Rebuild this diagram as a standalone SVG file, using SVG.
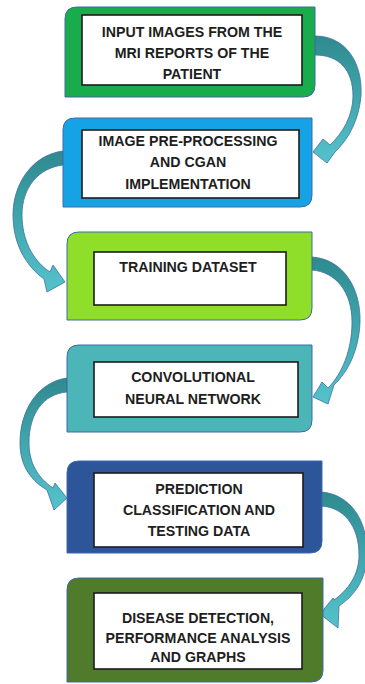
<svg xmlns="http://www.w3.org/2000/svg" width="365" height="684" viewBox="0 0 365 684">
<defs>
<linearGradient id="ag" x1="0" y1="0" x2="0" y2="1">
<stop offset="0" stop-color="#2e8a8e"/>
<stop offset="1" stop-color="#55c3cc"/>
</linearGradient>
<style>
.outer{stroke:#3d6aa8;stroke-width:1}
.inner{fill:#ffffff;stroke:#1c1c1c;stroke-width:1.6}
.t{font-family:"Liberation Sans",Arial,sans-serif;font-weight:bold;font-size:14.2px;fill:#1e1e1e;text-anchor:middle;dominant-baseline:central}
.arrow{fill:url(#ag);stroke:#3f6ea5;stroke-width:0.8}
</style>
</defs>
<rect width="365" height="684" fill="#ffffff"/>
<g id="connectors">
<path class="arrow" d="M315,36 C346,36 363,63 361,96 C359,119 349,139 335,152 L327,163 L313,152 L323,139 L330,145 C343,133 353,115 353,96 C353,70 339,55 315,55 Z"/>
<path class="arrow" d="M63,151 C32,155 13,184 13,215 C13,244 26,266 44,279 L47,292 L65,282 L53,265 L50,272 C33,261 22,240 22,215 C22,188 38,168 63,165 Z"/>
<path class="arrow" d="M312,257 C343,259 361,288 360,322 C359,350 348,372 334,385 L328,404 L313,397 L322,382 L328,388 C342,374 352,350 352,322 C352,292 336,272 312,270 Z"/>
<path class="arrow" d="M67,378 C38,382 20,410 20,443 C20,467 32,481 47,490 L54,510 L67,498 L55,483 L53,488 C38,478 29,463 29,443 C29,414 43,394 67,392 Z"/>
<path class="arrow" d="M321,492 C350,494 368,520 367,555 C366,580 355,595 339,606 L338,628 L320,614 L333,598 L334,600 C348,590 359,575 359,555 C359,525 343,507 321,506 Z"/>
</g>
<g id="n1">
<path class="outer" fill="#18ac4c" d="M77,7 H315 V85 Q315,97 303,97 H65 V19 Q65,7 77,7 Z"/>
<rect class="inner" x="82" y="15" width="220" height="70"/>
<text class="t" x="192" y="32">INPUT IMAGES FROM THE</text>
<text class="t" x="192" y="53">MRI REPORTS OF THE</text>
<text class="t" x="192" y="74">PATIENT</text>
</g>
<g id="n2">
<path class="outer" fill="#16a3e6" d="M75,118 H312 V195 Q312,207 300,207 H63 V130 Q63,118 75,118 Z"/>
<rect class="inner" x="82" y="130" width="217" height="68"/>
<text class="t" x="188" y="141">IMAGE PRE-PROCESSING</text>
<text class="t" x="188" y="162">AND CGAN</text>
<text class="t" x="188" y="184">IMPLEMENTATION</text>
</g>
<g id="n3">
<path class="outer" fill="#8fde2a" d="M79,232 H312 V308 Q312,320 300,320 H67 V244 Q67,232 79,232 Z"/>
<rect class="inner" x="94" y="252" width="192" height="53"/>
<text class="t" x="188" y="267">TRAINING DATASET</text>
</g>
<g id="n4">
<path class="outer" fill="#4bb5b8" d="M79,345 H312 V420 Q312,432 300,432 H67 V357 Q67,345 79,345 Z"/>
<rect class="inner" x="94" y="362" width="204" height="55"/>
<text class="t" x="193" y="377">CONVOLUTIONAL</text>
<text class="t" x="193" y="399">NEURAL NETWORK</text>
</g>
<g id="n5">
<path class="outer" fill="#2d559a" d="M79,461 H322 V541 Q322,553 310,553 H67 V473 Q67,461 79,461 Z"/>
<rect class="inner" x="94" y="473" width="209" height="74"/>
<text class="t" x="199" y="489">PREDICTION</text>
<text class="t" x="199" y="510">CLASSIFICATION AND</text>
<text class="t" x="199" y="531">TESTING DATA</text>
</g>
<g id="n6">
<path class="outer" fill="#4f7b2b" d="M79,578 H323 V670 Q323,682 311,682 H67 V590 Q67,578 79,578 Z"/>
<rect class="inner" x="94" y="593" width="208" height="76"/>
<text class="t" x="198" y="618">DISEASE DETECTION,</text>
<text class="t" x="198" y="638">PERFORMANCE ANALYSIS</text>
<text class="t" x="198" y="657">AND GRAPHS</text>
</g>
</svg>
